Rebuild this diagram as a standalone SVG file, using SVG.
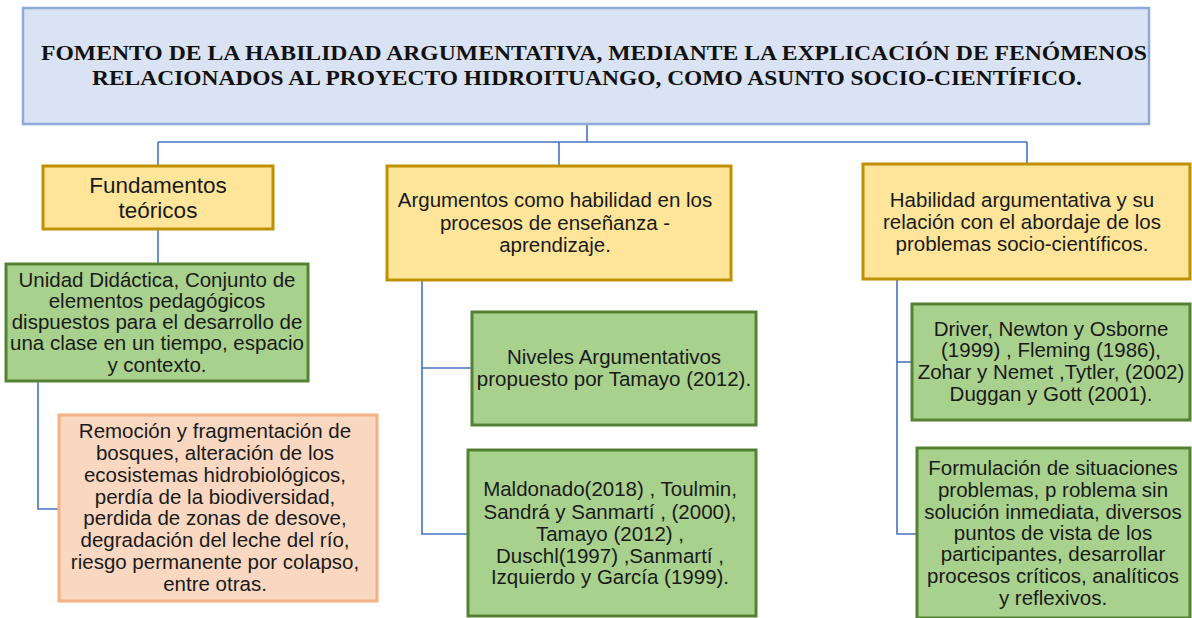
<svg xmlns="http://www.w3.org/2000/svg" width="1192" height="618" viewBox="0 0 1192 618">
<style>
.title{font-family:"Liberation Serif","Times New Roman",serif;font-weight:bold;font-size:22px;fill:#111;text-anchor:middle}
.t{font-family:"Liberation Sans",Arial,sans-serif;font-size:20.5px;fill:#1a1a1a;text-anchor:middle}
.big{font-size:22.5px}
.tb{fill:#dae3f3;stroke:#8eaadb;stroke-width:2.5}
.yb{fill:#fee599;stroke:#bf9000;stroke-width:3}
.gb{fill:#a9d18e;stroke:#548235;stroke-width:3}
.ob{fill:#f9d7c0;stroke:#f4b183;stroke-width:3}
.c{fill:none;stroke:#4472c4;stroke-width:1.6}
</style>
<rect width="1192" height="618" fill="#ffffff"/>
<g id="connectors">
<path class="c" d="M587,124 V142"/>
<path class="c" d="M158,142 H1027"/>
<path class="c" d="M158,142 V166"/>
<path class="c" d="M559,142 V166"/>
<path class="c" d="M1027,142 V164"/>
<path class="c" d="M158,229 V264"/>
<path class="c" d="M38,381 V509 H59"/>
<path class="c" d="M422,280 V534 H468"/>
<path class="c" d="M422,368 H472"/>
<path class="c" d="M897,279 V534 H917"/>
<path class="c" d="M897,362 H912"/>
</g>
<g id="title">
<rect class="tb" x="23" y="8" width="1126" height="116"/>
<text class="title" x="594" y="60" textLength="1106" lengthAdjust="spacingAndGlyphs">FOMENTO DE LA HABILIDAD ARGUMENTATIVA, MEDIANTE LA EXPLICACIÓN DE FENÓMENOS</text>
<text class="title" x="587" y="85" textLength="990" lengthAdjust="spacingAndGlyphs">RELACIONADOS AL PROYECTO HIDROITUANGO, COMO ASUNTO SOCIO-CIENTÍFICO.</text>
</g>
<g id="fundamentos">
<rect class="yb" x="43" y="166" width="230" height="63"/>
<text class="t big" x="158" y="193">Fundamentos</text>
<text class="t big" x="158" y="218">teóricos</text>
</g>
<g id="unidad">
<rect class="gb" x="6" y="264" width="302" height="117"/>
<text class="t" x="157" y="287">Unidad Didáctica, Conjunto de</text>
<text class="t" x="157" y="308">elementos pedagógicos</text>
<text class="t" x="157" y="329">dispuestos para el desarrollo de</text>
<text class="t" x="157" y="350">una clase en un tiempo, espacio</text>
<text class="t" x="157" y="372">y contexto.</text>
</g>
<g id="remocion">
<rect class="ob" x="59" y="415" width="318" height="186"/>
<text class="t" x="215" y="438">Remoción y fragmentación de</text>
<text class="t" x="215" y="460">bosques, alteración de los</text>
<text class="t" x="215" y="482">ecosistemas hidrobiológicos,</text>
<text class="t" x="215" y="504">perdía de la biodiversidad,</text>
<text class="t" x="215" y="525">perdida de zonas de desove,</text>
<text class="t" x="215" y="547">degradación del leche del río,</text>
<text class="t" x="215" y="569">riesgo permanente por colapso,</text>
<text class="t" x="215" y="591">entre otras.</text>
</g>
<g id="argumentos">
<rect class="yb" x="387" y="166" width="344" height="114"/>
<text class="t" x="555" y="207">Argumentos como habilidad en los</text>
<text class="t" x="555" y="230">procesos de enseñanza -</text>
<text class="t" x="555" y="252">aprendizaje.</text>
</g>
<g id="niveles">
<rect class="gb" x="472" y="312" width="284" height="113"/>
<text class="t" x="614" y="364">Niveles Argumentativos</text>
<text class="t" x="614" y="386">propuesto por Tamayo (2012).</text>
</g>
<g id="maldonado">
<rect class="gb" x="468" y="450" width="288" height="166"/>
<text class="t" x="610" y="496">Maldonado(2018)  , Toulmin,</text>
<text class="t" x="610" y="519">Sandrá  y Sanmartí , (2000),</text>
<text class="t" x="610" y="541">Tamayo (2012) ,</text>
<text class="t" x="610" y="563">Duschl(1997) ,Sanmartí ,</text>
<text class="t" x="610" y="584">Izquierdo y García (1999).</text>
</g>
<g id="habilidad">
<rect class="yb" x="863" y="164" width="327" height="115"/>
<text class="t" x="1022" y="207">Habilidad argumentativa y su</text>
<text class="t" x="1022" y="229">relación con el abordaje de los</text>
<text class="t" x="1022" y="251">problemas socio-científicos.</text>
</g>
<g id="driver">
<rect class="gb" x="912" y="304" width="278" height="116"/>
<text class="t" x="1051" y="336">Driver, Newton y Osborne</text>
<text class="t" x="1051" y="357">(1999) , Fleming (1986),</text>
<text class="t" x="1051" y="379">Zohar  y Nemet  ,Tytler, (2002)</text>
<text class="t" x="1051" y="401">Duggan  y Gott (2001).</text>
</g>
<g id="formulacion">
<rect class="gb" x="917" y="448" width="273" height="170"/>
<text class="t" x="1053" y="475">Formulación de situaciones</text>
<text class="t" x="1053" y="497">problemas, p roblema sin</text>
<text class="t" x="1053" y="519">solución inmediata, diversos</text>
<text class="t" x="1053" y="540">puntos de vista de los</text>
<text class="t" x="1053" y="561">participantes, desarrollar</text>
<text class="t" x="1053" y="583">procesos críticos, analíticos</text>
<text class="t" x="1053" y="605">y reflexivos.</text>
</g>
</svg>
